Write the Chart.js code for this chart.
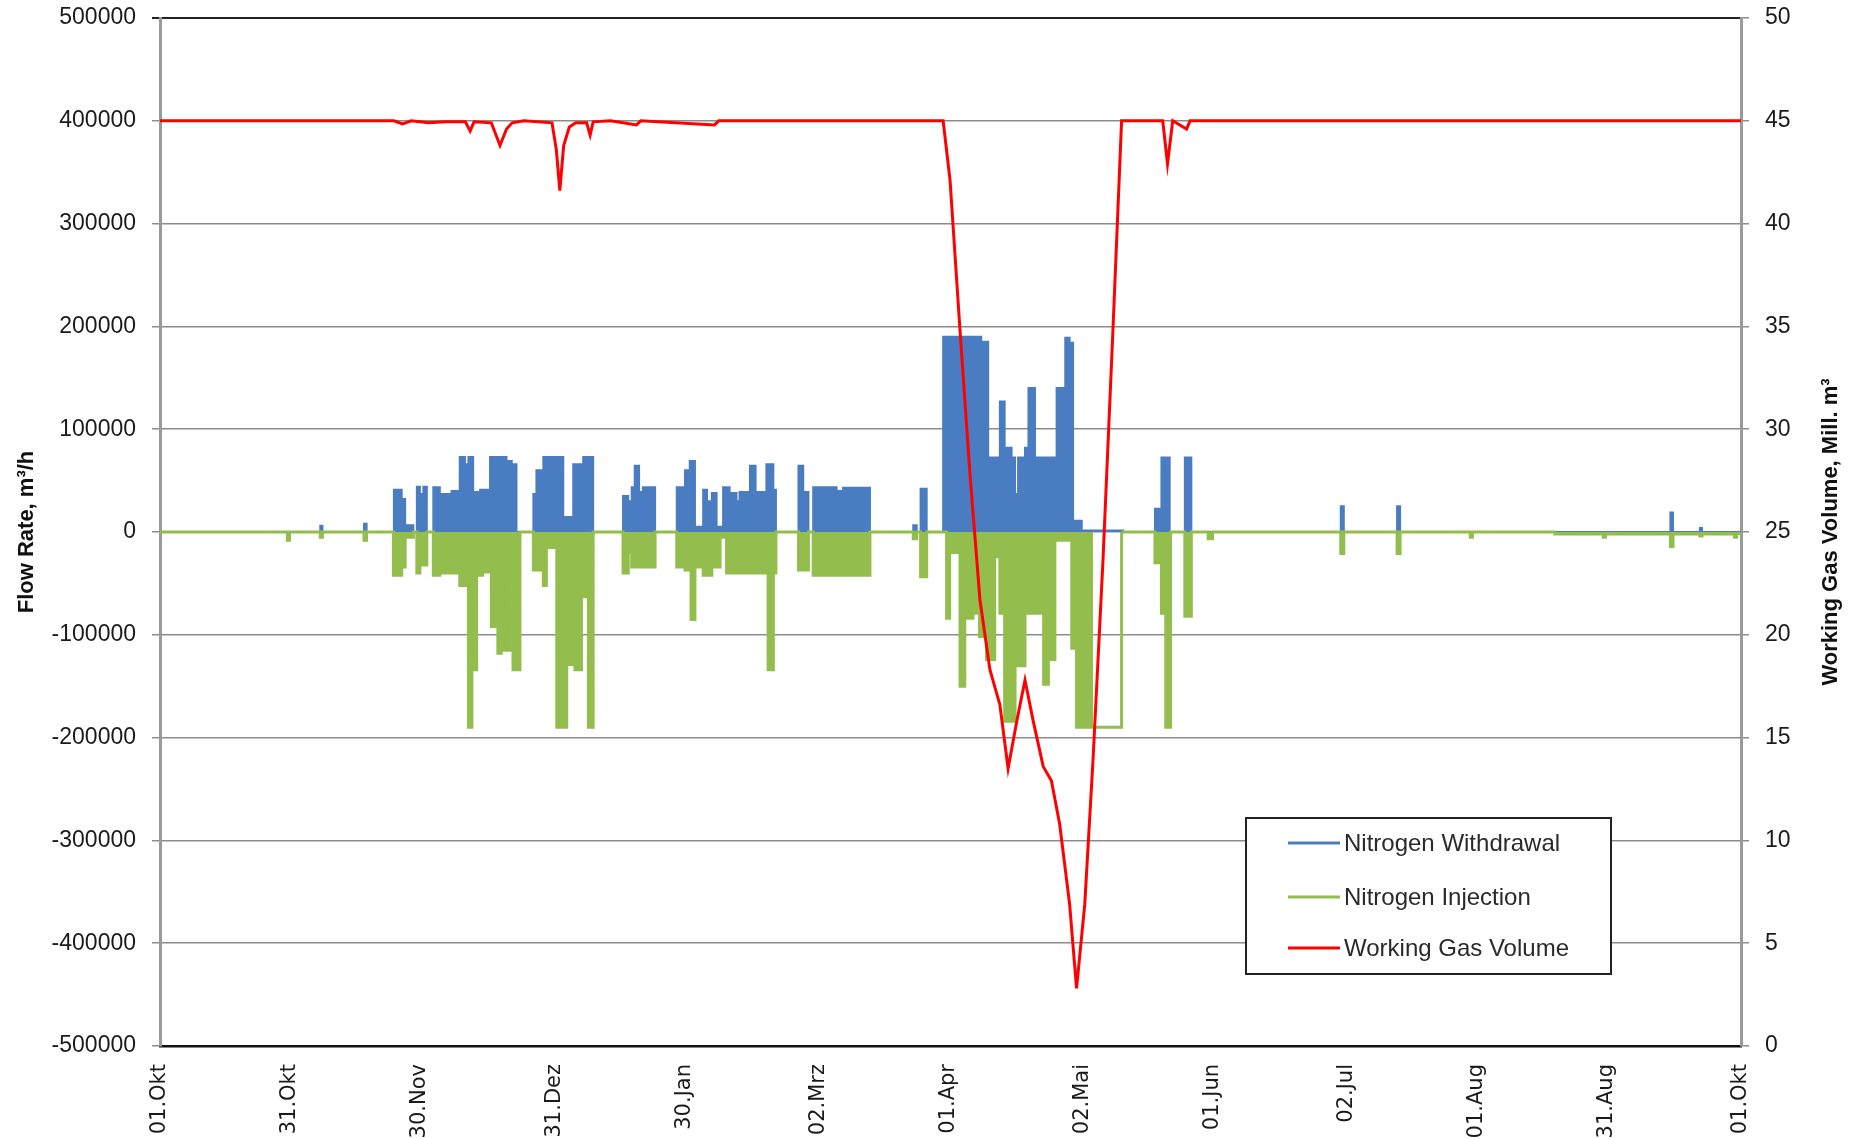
<!DOCTYPE html>
<html><head><meta charset="utf-8">
<script src="https://cdn.jsdelivr.net/npm/chart.js@4.4.1/dist/chart.umd.min.js"></script>
<style>html,body{margin:0;padding:0;background:#fff;} #wrap{width:1861px;height:1139px;position:relative;} canvas{display:block;}</style>
</head><body><div id="wrap"><canvas id="c"></canvas></div>
<script>
const xTickDays = [0,30,60,91,121,152,182,213,243,274,304,334,365];
const xTickLabels = ['01.Okt','31.Okt','30.Nov','31.Dez','30.Jan','02.Mrz','01.Apr','02.Mai','01.Jun','02.Jul','01.Aug','31.Aug','01.Okt'];
const seriesNames = ['Nitrogen Withdrawal','Nitrogen Injection','Working Gas Volume'];
const leftAxisTitle = 'Flow Rate, m³/h';
const rightAxisTitle = 'Working Gas Volume, Mill. m³';

// step series: value holds from day until next day
const withdrawalDays = [0,37.0,37.5,47.1,47.7,54.0,55.8,56.6,58.5,59.3,60.0,60.8,61.6,63.1,64.6,67.3,69.2,70.4,71.2,72.3,73.9,76.2,80.0,81.2,81.5,82.3,86.2,86.9,88.5,93.1,95.4,97.7,100.0,106.9,108.1,108.9,109.6,110.6,111.5,114.3,119.3,121.2,122.3,123.5,125.4,126.3,127.4,128.5,130.0,131.5,133.1,133.8,136.2,137.5,140.0,141.6,142.2,147.4,148.5,149.7,150.8,156.2,157.7,163.9,173.9,174.7,175.6,177.0,180.8,189.6,191.2,193.9,195.0,196.6,197.4,198.1,199.7,200.5,202.0,207.0,209.0,210.0,210.8,212.8,222.4,229.7,231.2,233.1,236.6,238.1,272.6,273.3,285.6,286.3,348.7,349.3,355.5,356.0,365];
const withdrawalRates = [0,6000,0,8000,0,41000,32000,6500,0,44000,37000,44000,0,43500,37000,40000,73000,66000,73000,39000,41000,73000,69000,41000,66000,0,37000,60000,73000,14500,66000,73000,0,35000,30000,43500,64500,39000,43500,0,43500,60000,69000,5000,41000,30000,38000,5000,43500,38000,30000,39000,64500,39000,66000,41000,0,64500,39000,0,43500,40000,43000,0,6500,0,42000,0,190000,185000,72500,127000,82000,72500,37000,72500,82000,140000,72500,140000,189000,184000,11000,1500,0,22600,72500,0,72500,0,25000,0,25000,0,19000,0,4000,0,0];

const injectionDays = [0,29.4,29.9,37.0,37.5,47.1,47.7,53.9,55.8,56.6,58.5,59.3,60.0,61.6,63.1,64.6,69.2,71.2,72.0,73.1,74.5,76.5,78.0,78.8,79.5,80.8,81.5,83.1,86.2,88.5,89.2,91.6,93.9,95.8,97.3,98.9,100.0,106.9,108.1,108.9,114.3,119.3,121.2,122.6,123.5,125.4,127.4,129.3,130.8,140.4,141.6,142.2,147.4,149.7,150.8,163.9,173.9,174.7,175.6,177.0,181.6,182.3,184.7,185.8,187.7,189.2,190.8,192.7,193.9,195.0,197.4,199.7,204.0,205.1,206.6,210.5,211.6,215.4,222.0,229.7,231.2,232.2,233.3,236.6,238.1,242.0,243.0,272.6,273.3,285.6,286.3,302.5,303.0,322.0,333.2,333.7,348.7,349.3,355.5,356.0,363.5,364.0,365];
const injectionRates = [0,-8000,0,-5000,0,-8000,0,-42000,-34000,-5000,0,-40000,-32000,0,-42000,-40000,-52000,-190000,-134000,-42000,-39000,-92000,-118000,-95000,-115000,-40000,-134000,0,-37000,-52000,-15000,-190000,-129000,-134000,-63000,-190000,0,-40000,-20000,-34000,0,-34000,-37000,-85000,-34000,-42000,-34000,-5000,-40000,-134000,-40000,0,-37000,0,-42000,0,-6500,0,-43500,0,-84000,-20000,-150000,-84000,-79000,-101600,-124000,-24000,-79000,-184000,-130000,-79000,-148000,-124000,-8000,-113000,-190000,-190000,0,-30000,-79000,-190000,0,-82000,0,-6500,0,-21000,0,-21000,0,-5000,0,-2000,-5000,-2000,-14000,-2000,-4000,-2000,-5000,-1500,-1500];
// steps drawn as outline only (constant rate, no oscillation)
const injectionOutlineOnlyFrom = [215.4];

const gasDays = [0,54,56,58,62,66,70.5,71.6,72.5,76.5,78.5,80,81.3,84,90.5,91.5,92.3,93.2,94.5,96,98.5,99.3,100,104,110,111,128,129,180.8,182.4,184.7,187,189.3,191.6,193.9,195.8,197.8,199.7,201.6,203.9,205.8,207.7,210,211.6,213.5,215.4,217.7,220,222,231.5,232.6,233.8,237,237.8,365];
const gasVolumes = [45,45,44.85,45,44.9,44.95,44.95,44.5,44.95,44.9,43.8,44.6,44.9,45,44.9,43.6,41.6,43.8,44.7,44.9,44.9,44.3,44.95,45,44.8,45,44.8,45,45,42.1,34.8,27.8,21.7,18.3,16.6,13.5,15.8,17.8,15.8,13.6,12.9,10.8,6.9,2.8,6.9,13.9,23.6,34.8,45,45,42.9,45,44.6,45,45];

const colors = ['#4a7cc2','#93bd4c','#ff0000'];

const pts = (xs, ys) => xs.map((x,i) => ({x:x, y:ys[i]}));

const overlay = {
  id: 'overlay',
  afterDraw(chart) {
    const ctx = chart.ctx, a = chart.chartArea;
    const cy = (a.top + a.bottom) / 2;
    ctx.save();
    ctx.fillStyle = '#111';
    ctx.font = 'bold 22px "Liberation Sans", Arial, sans-serif';
    ctx.textAlign = 'center'; ctx.textBaseline = 'middle';
    ctx.save(); ctx.translate(27, cy); ctx.rotate(-Math.PI/2); ctx.fillText(leftAxisTitle, 0, 0); ctx.restore();
    ctx.save(); ctx.translate(1831, cy); ctx.rotate(-Math.PI/2); ctx.fillText(rightAxisTitle, 0, 0); ctx.restore();
    // legend box
    const bx = 1246, by = 818, bw = 365, bh = 156;
    ctx.fillStyle = '#fff';
    ctx.fillRect(bx, by, bw, bh);
    ctx.strokeStyle = '#222'; ctx.lineWidth = 2;
    ctx.strokeRect(bx, by, bw, bh);
    const rows = [843, 897, 948];
    ctx.font = '24px "Liberation Sans", Arial, sans-serif';
    ctx.textAlign = 'left';
    seriesNames.forEach((n, i) => {
      ctx.strokeStyle = colors[i]; ctx.lineWidth = 3;
      ctx.beginPath(); ctx.moveTo(1288, rows[i]); ctx.lineTo(1340, rows[i]); ctx.stroke();
      ctx.fillStyle = '#2a2a2a';
      ctx.fillText(n, 1344, rows[i] + 1);
    });
    ctx.restore();
  }
};

const fixV = w => s => { s.width = w; s.paddingTop = 0; s.paddingBottom = 0; };

new Chart(document.getElementById('c'), {
  type: 'line',
  data: {
    datasets: [
      {
        label: seriesNames[2], data: pts(gasDays, gasVolumes), yAxisID: 'y2',
        borderColor: colors[2], borderWidth: 3, pointRadius: 0, tension: 0, fill: false, order: 0
      },
      {
        label: seriesNames[1], data: pts(injectionDays, injectionRates), yAxisID: 'y',
        borderColor: colors[1], backgroundColor: colors[1], borderWidth: 3, pointRadius: 0,
        stepped: true, fill: 'origin', order: 1,
        segment: { backgroundColor: c => injectionOutlineOnlyFrom.includes(injectionDays[c.p0DataIndex]) ? 'rgba(0,0,0,0)' : undefined }
      },
      {
        label: seriesNames[0], data: pts(withdrawalDays, withdrawalRates), yAxisID: 'y',
        borderColor: colors[0], backgroundColor: colors[0], borderWidth: 2, pointRadius: 0,
        stepped: true, fill: 'origin', order: 2
      }
    ]
  },
  options: {
    responsive: true, maintainAspectRatio: false, animation: false,
    layout: { padding: { top: 18, left: 0, right: 0, bottom: 0 } },
    plugins: { legend: { display: false }, tooltip: { enabled: false } },
    scales: {
      x: {
        type: 'linear', min: 0, max: 365,
        afterBuildTicks: s => { s.ticks = xTickDays.map(v => ({ value: v })); },
        afterFit: s => { s.height = 93; s.paddingLeft = 0; s.paddingRight = 0; },
        ticks: {
          callback: (v) => { const i = xTickDays.indexOf(v); return i >= 0 ? xTickLabels[i] : ''; },
          minRotation: 90, maxRotation: 90, autoSkip: false, padding: 10,
          color: '#1a1a1a', font: { family: '"DejaVu Sans", sans-serif', size: 21 }
        },
        grid: { display: false },
        border: { display: true, color: '#111', width: 2.5 }
      },
      y: {
        position: 'left', min: -500000, max: 500000,
        afterFit: fixV(160),
        ticks: {
          stepSize: 100000, padding: 16, color: '#1a1a1a',
          callback: v => String(v),
          font: { family: '"Liberation Sans", Arial, sans-serif', size: 23 }
        },
        grid: {
          color: c => c.tick && c.tick.value === 500000 ? '#222' : '#8c8c8c',
          lineWidth: c => c.tick && c.tick.value === 500000 ? 2 : 1.5,
          tickLength: 8, drawTicks: true
        },
        border: { display: true, color: '#9a9a9a', width: 3 }
      },
      y2: {
        position: 'right', min: 0, max: 50,
        afterFit: fixV(120),
        ticks: {
          stepSize: 5, padding: 16, color: '#1a1a1a',
          font: { family: '"Liberation Sans", Arial, sans-serif', size: 23 }
        },
        grid: { drawOnChartArea: false, color: '#8c8c8c', tickLength: 8, lineWidth: 1.5 },
        border: { display: true, color: '#9a9a9a', width: 3 }
      }
    }
  },
  plugins: [overlay]
});
</script>
</body></html>
